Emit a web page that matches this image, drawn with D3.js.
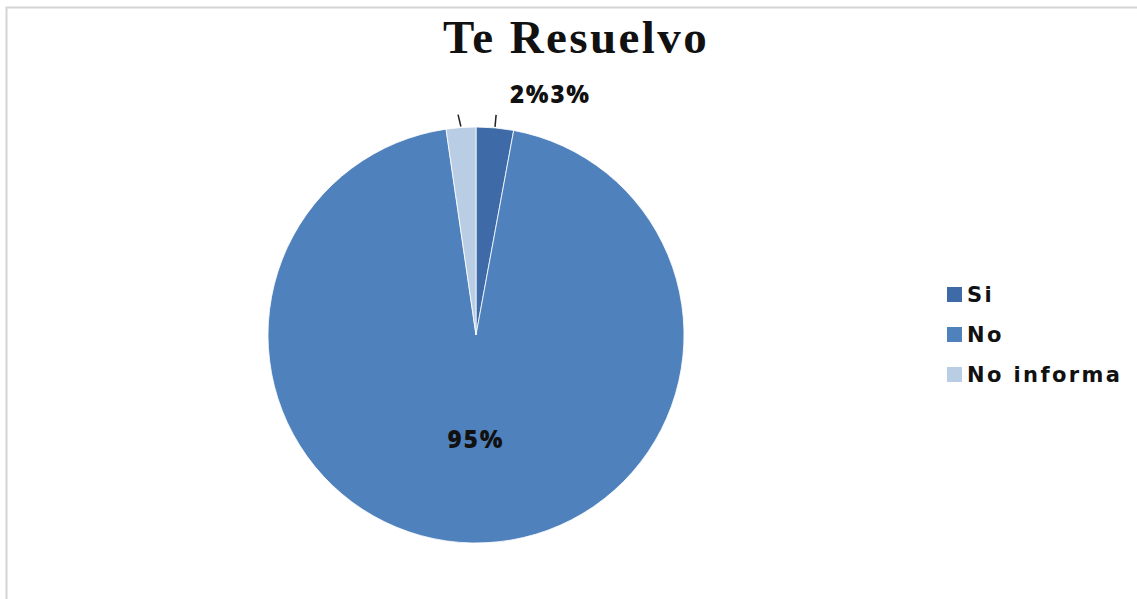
<!DOCTYPE html>
<html>
<head>
<meta charset="utf-8">
<script src="https://cdn.jsdelivr.net/npm/d3@7"></script>
<style>
  html, body { margin: 0; padding: 0; background: #fff; }
  svg { display: block; }
</style>
</head>
<body>
<svg id="chart" width="1137" height="599"></svg>
<script>
const categories = ["Si", "No", "No informa"];
const values = [2.9, 94.8, 2.3];
const labels = ["3%", "95%", "2%"];
const colors = ["#3e6ba8", "#4f81bd", "#b9cde5"];
const title = "Te Resuelvo";

const svg = d3.select("#chart");
const W = 1137, H = 599;

// outer frame
svg.append("rect")
  .attr("x", 6.5).attr("y", 7.5)
  .attr("width", W + 10).attr("height", H + 10)
  .attr("fill", "#fff")
  .attr("stroke", "#d4d4d4").attr("stroke-width", 2);

svg.append("text")
  .attr("x", 576).attr("y", 53)
  .attr("text-anchor", "middle")
  .attr("font-family", "Liberation Serif, DejaVu Serif, serif")
  .attr("font-weight", "bold")
  .attr("font-size", 47)
  .attr("letter-spacing", 2.4)
  .attr("fill", "#111")
  .text(title);

const cx = 476, cy = 335, r = 208;
const g = svg.append("g").attr("transform", `translate(${cx},${cy})`);

const pie = d3.pie().sort(null).value(d => d.v);
const data = pie(categories.map((c, i) => ({ c, v: values[i], l: labels[i], col: colors[i] })));
const arc = d3.arc().innerRadius(0).outerRadius(r);

g.selectAll("path.slice").data(data).enter().append("path")
  .attr("class", "slice")
  .attr("d", arc)
  .attr("fill", d => d.data.col)
  .attr("stroke", "#ffffff")
  .attr("stroke-width", 0.8);

const labelFont = "Open Sans, Lato, sans-serif";

// big slice label inside
const big = data[1];
const bigPos = d3.arc().innerRadius(0).outerRadius(r * 1.02).centroid(big);
g.append("text")
  .attr("x", bigPos[0] + 2).attr("y", 113)
  .attr("text-anchor", "middle")
  .attr("font-family", labelFont)
  .attr("font-weight", 800)
  .attr("font-size", 24)
  .attr("letter-spacing", 2)
  .attr("fill", "#111")
  .text(big.data.l);

// small slices: leader lines
[data[2], data[0]].forEach((d, i) => {
  const ang = (d.startAngle + d.endAngle) / 2;
  const p1 = [Math.sin(ang) * (r + 1), -Math.cos(ang) * (r + 1)];
  const p2 = [Math.sin(ang) * (r + 13) + (i === 0 ? -2 : 0), -Math.cos(ang) * (r + 13)];
  g.append("line")
    .attr("x1", p1[0]).attr("y1", p1[1])
    .attr("x2", p2[0]).attr("y2", p2[1])
    .attr("stroke", "#222").attr("stroke-width", 1.5);
});
g.append("text")
  .attr("x", 34).attr("y", -232)
  .attr("font-family", labelFont)
  .attr("font-weight", 800)
  .attr("font-size", 24)
  .attr("letter-spacing", 1.8)
  .attr("fill", "#111")
  .text(data[2].data.l + data[0].data.l);

// legend
const lg = svg.append("g").attr("transform", "translate(947,287)");
const items = lg.selectAll("g").data(data).enter().append("g")
  .attr("transform", (d, i) => `translate(0,${i * 40})`);
items.append("rect")
  .attr("width", 15).attr("height", 15)
  .attr("fill", d => d.data.col);
items.append("text")
  .attr("x", 20).attr("y", 15)
  .attr("font-family", "DejaVu Sans, sans-serif")
  .attr("font-weight", 700)
  .attr("font-size", 21)
  .attr("letter-spacing", 2.4)
  .attr("fill", "#111")
  .text(d => d.data.c);
</script>
</body>
</html>
